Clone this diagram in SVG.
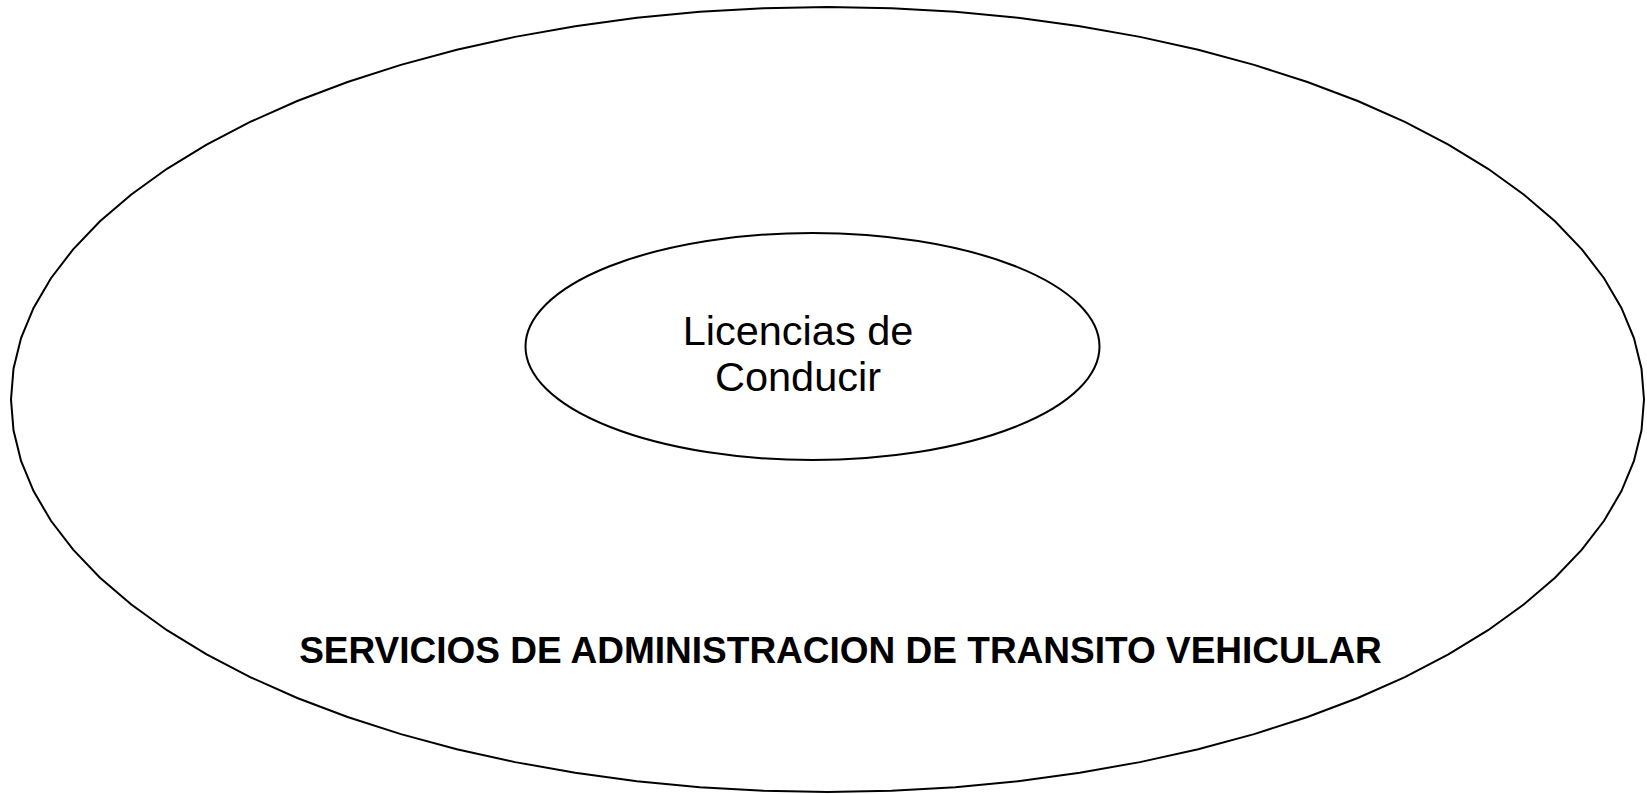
<svg xmlns="http://www.w3.org/2000/svg" width="1647" height="794" viewBox="0 0 1647 794">
<style>
.shape{fill:none;stroke:#000;stroke-width:2}
.lbl{font-family:"Liberation Sans",Arial,sans-serif;fill:#000;text-anchor:middle}
</style>
<rect width="1647" height="794" fill="#fff"/>
<g id="outer">
<polygon class="shape" points="1644,399.5 1641.5,368.7 1633.95,338.1 1621.44,307.87 1604.04,278.21 1581.85,249.3 1555.01,221.31 1523.68,194.42 1488.06,168.79 1448.37,144.59 1404.86,121.96 1357.78,101.04 1307.43,81.96 1254.12,64.84 1198.19,49.78 1139.96,36.88 1079.82,26.21 1018.11,17.84 955.23,11.83 891.56,8.21 827.5,7 763.44,8.21 699.77,11.83 636.89,17.84 575.18,26.21 515.04,36.88 456.81,49.78 400.88,64.84 347.57,81.96 297.22,101.04 250.14,121.96 206.63,144.59 166.94,168.79 131.32,194.42 99.99,221.31 73.15,249.3 50.96,278.21 33.56,307.87 21.05,338.1 13.5,368.7 11,399.5 13.5,430.3 21.05,460.9 33.56,491.13 50.96,520.79 73.15,549.7 99.99,577.69 131.32,604.58 166.94,630.21 206.63,654.41 250.14,677.04 297.22,697.96 347.57,717.04 400.88,734.16 456.81,749.22 515.04,762.12 575.18,772.79 636.89,781.16 699.77,787.17 763.44,790.79 827.5,792 891.56,790.79 955.23,787.17 1018.11,781.16 1079.82,772.79 1139.96,762.12 1198.19,749.22 1254.12,734.16 1307.43,717.04 1357.78,697.96 1404.86,677.04 1448.37,654.41 1488.06,630.21 1523.68,604.58 1555.01,577.69 1581.85,549.7 1604.04,520.79 1621.44,491.13 1633.95,460.9 1641.5,430.3"/>
<text class="lbl" x="840.5" y="663" font-size="37" font-weight="bold">SERVICIOS DE ADMINISTRACION DE TRANSITO VEHICULAR</text>
</g>
<g id="inner">
<ellipse class="shape" cx="812.5" cy="346.5" rx="287" ry="113.5" stroke-width="1.5"/>
<text class="lbl" x="798" y="345" font-size="41.5">Licencias de</text>
<text class="lbl" x="798" y="391" font-size="41.5">Conducir</text>
</g>
<g id="connectors"/>
</svg>
